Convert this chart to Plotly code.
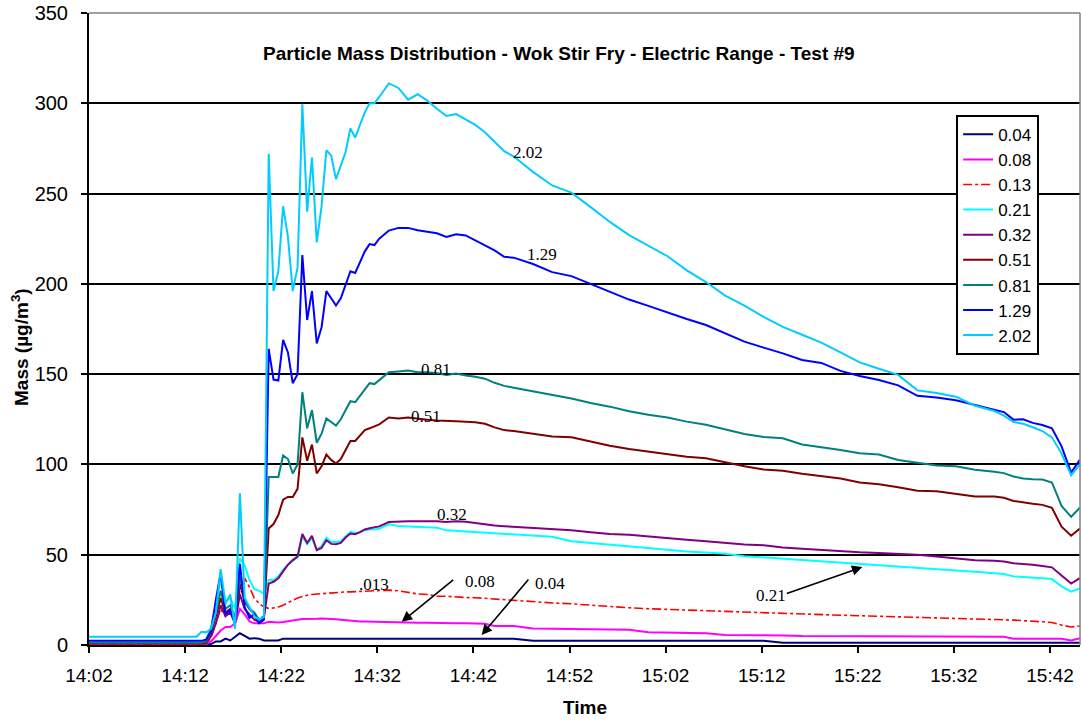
import pandas as pd
import plotly.graph_objects as go

# minutes after 14:02:00
T_MIN = [0, 11.2, 11.7, 12.2, 12.7, 13.2, 13.7, 14.2, 14.7, 15.2, 15.7, 16.2, 16.7, 17.2, 17.7, 18.2,
         18.7, 19.2, 19.7, 20.2, 20.7, 21.2, 21.7, 22.2, 22.7, 23.2, 23.7, 24.2, 24.7, 25.2, 25.7, 26.2,
         26.7, 27.2, 27.7, 28.2, 28.7, 29.2, 29.7, 30.2, 31.2, 32.2, 33.2, 34.2, 35.2, 36.2, 37.2, 38.2,
         39.2, 40.2, 41.2, 42.2, 43.2, 44.2, 46.2, 48.2, 50.2, 52.2, 54.2, 56.2, 58.2, 60.2, 62.2, 64.2,
         66.2, 68.2, 70.2, 72.2, 74.2, 76.2, 78.2, 80.2, 82.2, 84.2, 86.2, 88.2, 90.2, 92.2, 94.2, 95.2,
         96.2, 97.2, 98.2, 99.2, 100.2, 101.2, 102.2, 103.1]

D202 = [4.6, 4.6, 7.3, 7, 9, 18, 42, 23, 28, 9,
        84, 26, 21, 16, 14, 15.5, 272, 196, 207, 243,
        226, 196, 209, 299.5, 240, 270, 223, 243, 274, 271,
        258, 265, 273, 286, 281, 288, 295, 300, 300, 303.5,
        311, 308.5, 302, 305, 301.5, 297, 293, 294, 291, 288,
        284, 279, 273.5, 270.5, 262, 254.5, 250.5, 242.5, 234.3, 227,
        221, 215.3, 207.5, 201, 193.5, 188, 181.7, 176.2, 171.8, 167.5,
        162, 156.5, 153, 149.6, 141, 139.5, 137.5, 132.5, 129.6, 127,
        123.5, 122.5, 120.6, 118.5, 115, 106, 94, 100]
D129 = [2.3, 2.3, 2.3, 3, 8, 25, 40, 17, 19, 12,
        45, 21, 15, 17, 12, 14, 164, 147, 146.5, 169,
        162, 145, 150, 216, 180, 196, 167, 176, 196, 192,
        188, 192, 199, 207, 206, 212, 218, 222, 221.5, 225,
        229.5, 231, 231, 229.7, 229, 228, 226, 227.5, 226.8, 224,
        221.5, 218.5, 215, 214.5, 211, 206.5, 204.3, 200, 195.5, 191.3,
        187.8, 184, 180.5, 177.2, 172.5, 168, 164.7, 161.5, 157.8, 156.2,
        151.8, 149, 146.8, 143.8, 138, 137.1, 135.5, 133, 130.5, 129,
        124.8, 125, 123, 121.8, 120, 110, 95.5, 102.5]
D081 = [1.3, 1.3, 1.3, 2, 8, 18, 30, 20, 22, 15,
        38, 25, 20, 18, 14, 16, 93, 93, 93, 105,
        103, 95, 100, 140, 120, 130, 112, 117, 125.5, 123.5,
        121.5, 125, 130, 135, 134.5, 138, 142, 145, 144.5, 146.5,
        151, 151.5, 152, 151, 151, 150.5, 149.6, 150.4, 149.2, 148.5,
        147.5, 145.2, 143.5, 142.5, 140.5, 138.5, 136.5, 134, 132, 129.5,
        127.5, 126, 123.7, 122, 119.2, 116.8, 115.2, 114.5, 111, 109.7,
        108, 106.2, 105.5, 102.5, 101, 99.4, 99, 97, 96, 95.2,
        93.3, 92.2, 91.8, 91.6, 90, 77, 71, 76]
D051 = [1, 1, 1, 1.5, 7, 16, 26, 18, 20, 13,
        34, 24, 20, 17, 14, 15, 64.5, 67, 72, 80.5,
        82, 82, 86.5, 115, 102, 111, 95, 99, 105.5, 102.5,
        100.5, 103, 108, 113, 113, 116, 119, 120, 121.3, 122.2,
        126, 125.4, 126, 125.2, 124.8, 124.3, 123.9, 123.9, 123.7, 123.4,
        122.5, 120.5, 119, 118.5, 117, 115.5, 115, 112.5, 110.4, 108.5,
        107, 105.6, 104.2, 103.4, 101, 99, 97.2, 96.5, 94.8, 93.3,
        92.2, 90, 89, 87.4, 85.4, 85.2, 83.8, 82.2, 82.2, 81.5,
        79.8, 78.8, 78.2, 77.6, 76, 65.5, 60.5, 64.5]
D032 = [1, 1, 1, 1, 5, 12, 22, 16, 18, 12,
        28, 20, 17, 14, 13, 15, 34, 35, 37, 41,
        44.5, 47, 49, 61.5, 56.5, 60.5, 52.5, 53.7, 58, 56,
        55.8, 56.5, 59.5, 61.7, 61.4, 62.5, 64, 64.7, 65.4, 65.7,
        68.1, 68.5, 68.6, 68.6, 68.6, 68.5, 68.1, 68.5, 68.2, 67.4,
        66.8, 66.2, 65.8, 65.5, 65, 64.5, 63.5, 62.5, 61.5, 61,
        60, 59, 58.3, 57.5, 56.5, 55.6, 55.2, 54, 53.3, 52.5,
        51.7, 51.3, 51, 50.5, 50, 49, 48, 47, 46.6, 46.3,
        45.3, 45.1, 44.5, 43.7, 43, 38.5, 34, 37]
D021 = [1.2, 1.2, 1.5, 3, 10, 22, 36, 24, 26, 20,
        48, 44, 36, 31, 30, 28.5, 36, 36, 38, 41.8,
        44.5, 46.5, 48.5, 60, 56, 59, 52.8, 55, 59.5, 57,
        57, 57.5, 60, 62.6, 62, 62.5, 63.5, 64, 64, 64.4,
        66.8, 65.9, 65.6, 65.5, 65.4, 65, 63.5, 63.2, 62.8, 62.6,
        62.3, 62, 61.5, 61, 60.5, 60, 57.5, 56.5, 55.5, 54.5,
        53.5, 52.5, 51.8, 51.2, 50.5, 49.2, 48.5, 47.8, 47.2, 46.3,
        45.6, 45, 44.2, 43.5, 43, 42.3, 41.2, 40.5, 39.8, 39.3,
        38, 37.8, 37.5, 37, 36.5, 32.5, 29.5, 31.3]
D013 = [0.5, 0.5, 0.5, 1, 4, 12, 20, 16, 19, 15,
        30, 37, 32, 26, 23, 21, 20.3, 20.5, 21, 22,
        23.5, 24.8, 26, 27, 27.6, 28, 28.2, 28.5, 28.8, 29,
        29.3, 29.4, 29.4, 29.4, 29.5, 29.6, 29.8, 30, 30, 30.2,
        30.4, 30, 29, 28.3, 28, 27, 27, 26.5, 26.3, 26.2,
        25.8, 25.5, 25, 24.5, 24, 23.3, 22.8, 22, 21.2, 20.6,
        20.1, 19.6, 19.2, 19, 18.6, 18.2, 17.8, 17.4, 17.1, 16.8,
        16.5, 16.2, 16, 15.6, 15.3, 15, 14.7, 14.5, 14, 13.8,
        13.8, 13.5, 13.2, 12.9, 12.5, 11, 10, 10.5]
D008 = [0.2, 0.2, 0.2, 0.4, 2, 5, 8, 10, 10, 12,
        20, 17, 13, 12, 12, 12, 12.9, 12.7, 12.5, 12.8,
        13.1, 13.3, 14, 14.4, 14.4, 14.2, 14.5, 14.7, 14.7, 14.5,
        14.3, 14, 13.7, 13.5, 13.3, 13, 13, 12.9, 12.9, 12.9,
        12.8, 12.7, 12.5, 12.3, 12.3, 12.1, 12, 12, 12, 12,
        11.8, 10.5, 10.5, 10.5, 9.2, 9, 8.7, 8.7, 8.7, 8.5,
        7, 6.8, 6.8, 6.5, 5.5, 5.5, 5.5, 5.3, 5, 5,
        4.8, 4.6, 4.6, 4.6, 4.6, 4.6, 4.6, 4.6, 4.6, 4.6,
        3.5, 3.5, 3.5, 3.5, 3.5, 3.5, 2.5, 3.7]
D004 = [0, 0, 0, 0, 0.5, 2, 2, 3.5, 2.5, 4.5,
        6.5, 5, 3.5, 3.8, 3.5, 2.5, 2.5, 2.2, 2.5, 3.5,
        3.5, 3.5, 3.5, 3.5, 3.5, 3.5, 3.5, 3.5, 3.5, 3.5,
        3.5, 3.5, 3.5, 3.5, 3.5, 3.5, 3.5, 3.5, 3.5, 3.5,
        3.5, 3.5, 3.5, 3.5, 3.5, 3.5, 3.5, 3.5, 3.5, 3.5,
        3.5, 3.5, 3.5, 3.5, 2.4, 2.4, 2.4, 2.4, 2.4, 2.4,
        2.4, 2.4, 2.4, 2.4, 2.4, 2.4, 2.4, 1.3, 1.3, 1.3,
        1.3, 1.3, 1.3, 1.3, 1.3, 1.3, 1.3, 1.3, 1.3, 1.3,
        1.3, 1.3, 1.3, 1.3, 1.3, 1.3, 1.3, 1.3]

SERIES_NAMES = ["0.04", "0.08", "0.13", "0.21", "0.32", "0.51", "0.81", "1.29", "2.02"]
SERIES_DATA = [D004, D008, D013, D021, D032, D051, D081, D129, D202]
COLORS = ["#000080", "#FF00FF", "#FF0000", "#00FFFF", "#800080", "#800000", "#008080", "#0000FF", "#00CCFF"]

TITLE = "Particle Mass Distribution - Wok Stir Fry - Electric Range - Test #9"

BASE = pd.Timestamp("2000-01-01 14:02:00")
def tm(m):
    return BASE + pd.to_timedelta(m, unit="min")

times = [tm(m) for m in T_MIN]

fig = go.Figure()
for name, vals, col in zip(SERIES_NAMES, SERIES_DATA, COLORS):
    dash = "dashdot" if name == "0.13" else "solid"
    width = 1.6 if name == "0.13" else 2
    fig.add_trace(go.Scatter(x=times, y=vals, mode="lines", name=name,
                             line=dict(color=col, width=width, dash=dash)))

SANS = "Liberation Sans, Arial, sans-serif"
SERIF = "Liberation Serif, Times New Roman, serif"

# in-plot series labels (minute offset, value, text)
LABELS = [(45.68, 272.8, "2.02"), (47.14, 216.5, "1.29"), (36.11, 152.4, "0.81"),
          (35.07, 126.4, "0.51"), (37.77, 72.3, "0.32"), (29.66, 33.7, ".013"),
          (40.69, 35.3, "0.08"), (47.97, 34.2, "0.04"), (70.97, 27.6, "0.21")]
for m, v, txt in LABELS:
    fig.add_annotation(x=tm(m), y=v, text=txt, showarrow=False,
                       xanchor="center", yanchor="middle",
                       font=dict(family=SERIF, size=17, color="black"))

# arrows (head at minute, value; tail offset in px)
ARROWS = [(32.54, 12.9, 53, -43), (40.86, 5.5, 48, -57), (80.47, 43.2, -77, 27)]
for m, v, ax, ay in ARROWS:
    fig.add_annotation(x=tm(m), y=v, ax=ax, ay=ay, text="", showarrow=True,
                       arrowhead=2, arrowsize=1.3, arrowwidth=1.6, arrowcolor="black")

fig.add_annotation(xref="paper", yref="paper", x=0.4743, y=0.9353, text="<b>" + TITLE + "</b>",
                   xanchor="center", yanchor="middle",
                   showarrow=False, font=dict(family=SANS, size=19, color="black"))
fig.add_annotation(xref="paper", yref="paper", x=-0.0696, y=0.4716, textangle=-90,
                   xanchor="center", yanchor="middle",
                   text="<b>Mass (µg/m<sup>3</sup>)</b>", showarrow=False,
                   font=dict(family=SANS, size=19, color="black"))
fig.add_annotation(xref="paper", yref="paper", x=0.5, y=-0.0994, text="<b>Time</b>",
                   xanchor="center", yanchor="middle",
                   showarrow=False, font=dict(family=SANS, size=19, color="black"))

# top and right plot-area border (grey)
fig.add_shape(type="line", xref="paper", yref="paper", x0=0, x1=1, y0=1, y1=1,
              line=dict(color="#808080", width=1.5), layer="above")
fig.add_shape(type="line", xref="paper", yref="paper", x0=1, x1=1, y0=0, y1=1,
              line=dict(color="#808080", width=1.5), layer="above")

fig.update_layout(
    width=1082, height=721,
    margin=dict(l=89, r=2, t=11, b=76),
    paper_bgcolor="white", plot_bgcolor="white",
    font=dict(family=SANS, size=20, color="black"),
    showlegend=True,
    legend=dict(x=0.875, y=0.839, xanchor="left", yanchor="top",
                bgcolor="white", bordercolor="black", borderwidth=2,
                font=dict(family=SANS, size=17, color="black"),
                itemwidth=30, tracegroupgap=0),
    xaxis=dict(type="date", range=[tm(0), tm(103.12)],
               tick0=tm(0), dtick=600000, tickformat="%H:%M",
               showgrid=False, zeroline=False,
               showline=True, linecolor="black", linewidth=2,
               ticks="outside", ticklen=6, tickwidth=2, tickcolor="black",
               ticklabelstandoff=6,
               tickfont=dict(family=SANS, size=19, color="black")),
    yaxis=dict(range=[0, 350], tick0=0, dtick=50,
               showgrid=True, gridcolor="black", gridwidth=1.5, zeroline=False,
               showline=True, linecolor="black", linewidth=2,
               ticks="outside", ticklen=6, tickwidth=2, tickcolor="black",
               ticklabelstandoff=9,
               tickfont=dict(family=SANS, size=20, color="black")),
)

fig.write_html("out.html", config={"displayModeBar": False},
               post_script="document.body.style.margin='0px';")
